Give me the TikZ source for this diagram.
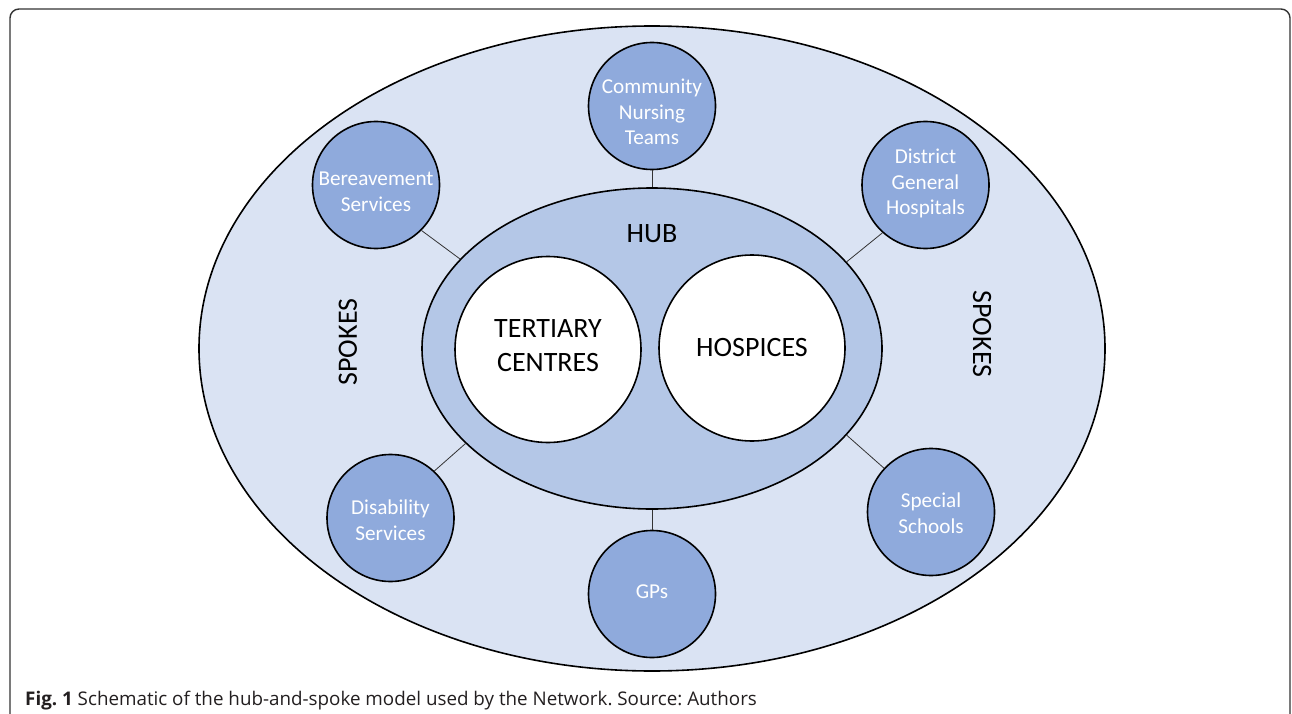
\documentclass[tikz,border=0pt]{standalone}
\usepackage{fontspec}
\setmainfont{Carlito}
\newfontfamily\captfont{Open Sans}
\usetikzlibrary{shapes.geometric}
\definecolor{outerfill}{HTML}{DAE3F3}
\definecolor{hubfill}{HTML}{B4C7E7}
\definecolor{spokefill}{HTML}{8FAADC}
\definecolor{framecol}{HTML}{333333}
\definecolor{captcol}{HTML}{231F20}
\tikzset{
  outerring/.style={ellipse, draw=black, line width=1.6pt, fill=outerfill, inner sep=0pt},
  hubring/.style={ellipse, draw=black, line width=1.6pt, fill=hubfill, inner sep=0pt},
  corecircle/.style={circle, draw=black, line width=1.6pt, fill=white, inner sep=0pt, minimum size=186pt},
  spokecircle/.style={circle, draw=black, line width=1.6pt, fill=spokefill, inner sep=0pt, minimum size=127pt},
  spoketext/.style={inner sep=0pt, align=center, text=white, font=\fontsize{21.2}{25.6}\selectfont},
  biglabel/.style={inner sep=0pt, align=center, font=\fontsize{28}{34}\selectfont},
  conn/.style={draw=black!80, line width=0.8pt},
}
\begin{document}
\begin{tikzpicture}[x=1pt, y=-1pt]
\useasboundingbox (0,0) rectangle (1292,714);
\fill[white] (0,0) rectangle (1292,714);
% frame
\draw[framecol, line width=1.4pt, rounded corners=9pt] (10,730) -- (10,9) -- (1290,9) -- (1290,730);
% rings
\node[outerring, minimum width=906pt, minimum height=645pt] (outer) at (652,348.5) {};
\node[hubring, minimum width=460pt, minimum height=321pt] (hub) at (652,348.5) {};
\node[corecircle] (tert) at (548,349.5) {};
\node[corecircle] (hosp) at (752,348) {};
\node[biglabel] (terttxt) at ([yshift=4pt]tert.center) {TERTIARY\\CENTRES};
\node[biglabel] (hosptxt) at (hosp.center) {HOSPICES};
\node[biglabel] (hublbl) at (652,234) {HUB};
\node[biglabel, rotate=90] (spokesl) at (348,342) {SPOKES};
\node[biglabel, rotate=-90] (spokesr) at (982,334) {SPOKES};
% spokes
\node[spokecircle] (comm) at (652,106) {};
\node[spokecircle] (bere) at (376,185) {};
\node[spokecircle] (dist) at (925.5,185) {};
\node[spokecircle] (disa) at (390.5,518) {};
\node[spokecircle] (gps) at (652,594) {};
\node[spokecircle] (spec) at (931,512) {};
\node[spoketext] (commtxt) at ([yshift=-6pt]comm.center) {Community\\Nursing\\Teams};
\node[spoketext] (beretxt) at ([yshift=-6.5pt]bere.center) {Bereavement\\Services};
\node[spoketext] (disttxt) at ([yshift=1.5pt]dist.center) {District\\General\\Hospitals};
\node[spoketext] (disatxt) at ([yshift=-2.5pt]disa.center) {Disability\\Services};
\node[spoketext] (gpstxt) at ([yshift=2pt]gps.center) {GPs};
\node[spoketext] (spectxt) at ([yshift=-1pt]spec.center) {Special\\Schools};
% connectors
\draw[conn] (comm.south) -- (hub.north);
\draw[conn] (gps.north) -- (hub.south);
\draw[conn] (bere.-45) -- (hub.155);
\draw[conn] (dist.-132) -- (hub.24);
\draw[conn] (disa.47) -- (hub.207);
\draw[conn] (spec.137) -- (hub.-24.5);
% caption
\node[anchor=base west, inner sep=0pt, text=captcol, font=\captfont\fontsize{18.8}{22}\selectfont] (caption) at (25,705)
  {\frenchspacing\textbf{Fig. 1} Schematic of the hub-and-spoke model used by the Network. Source: Authors};
\end{tikzpicture}
\end{document}
